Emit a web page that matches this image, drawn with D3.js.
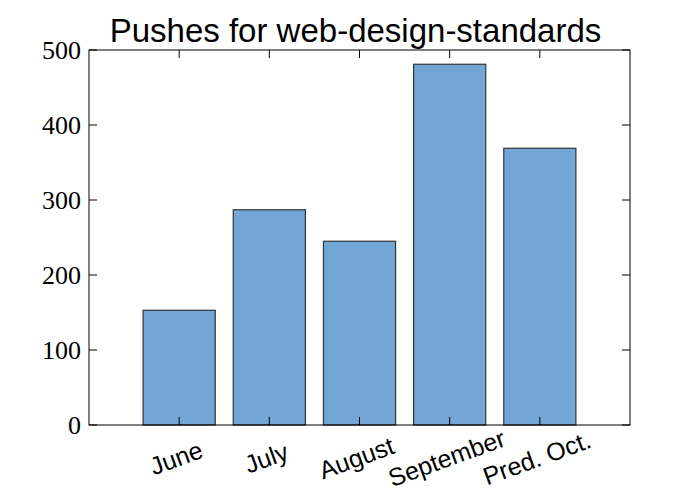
<!DOCTYPE html>
<html><head><meta charset="utf-8">
<script src="https://cdn.jsdelivr.net/npm/d3@7"></script>
<style>body{margin:0;background:#fff}</style></head>
<body><svg id="c" width="700" height="500"></svg>
<script>
const categories = ["June","July","August","September","Pred. Oct."];
const values = [153, 287, 245, 481, 369];
const yTicks = [0,100,200,300,400,500];

const svg = d3.select("#c");
const L=89,R=630,T=50,B=425;
const x = d3.scaleLinear().domain([-1,5]).range([L,R]);
const y = d3.scaleLinear().domain([0,500]).range([B,T]);
const bw = x(0.8)-x(0);

svg.selectAll("rect.bar").data(values).enter().append("rect")
  .attr("x",(d,i)=>x(i)-bw/2).attr("y",d=>y(d))
  .attr("width",bw).attr("height",d=>y(0)-y(d))
  .attr("fill","#72a6d6").attr("stroke","#333").attr("stroke-width",1.2);

svg.append("rect").attr("x",L).attr("y",T).attr("width",R-L).attr("height",B-T)
  .attr("fill","none").attr("stroke","#000").attr("stroke-width",1);

yTicks.forEach(t=>{
  svg.append("line").attr("x1",L).attr("x2",L+8).attr("y1",y(t)).attr("y2",y(t)).attr("stroke","#000");
  svg.append("line").attr("x1",R).attr("x2",R-8).attr("y1",y(t)).attr("y2",y(t)).attr("stroke","#000");
  svg.append("text").attr("x",L-8).attr("y",y(t)).attr("dy","0.35em").attr("text-anchor","end")
    .attr("font-family","Liberation Serif, serif").attr("font-size",26).text(t);
});
categories.forEach((c,i)=>{
  svg.append("line").attr("x1",x(i)).attr("x2",x(i)).attr("y1",B).attr("y2",B-8).attr("stroke","#000");
  svg.append("line").attr("x1",x(i)).attr("x2",x(i)).attr("y1",T).attr("y2",T+8).attr("stroke","#000");
  svg.append("text").attr("transform",`translate(${x(i)-3},${B+33}) rotate(-20)`)
    .attr("text-anchor","middle").attr("dy","0.35em")
    .attr("font-family","Liberation Sans, Arial, sans-serif").attr("font-size",25).text(c);
});
svg.append("text").attr("x",(L+R)/2-4).attr("y",T-8).attr("text-anchor","middle")
  .attr("font-family","Liberation Sans, Arial, sans-serif").attr("font-size",33).text("Pushes for web-design-standards");
</script></body></html>
